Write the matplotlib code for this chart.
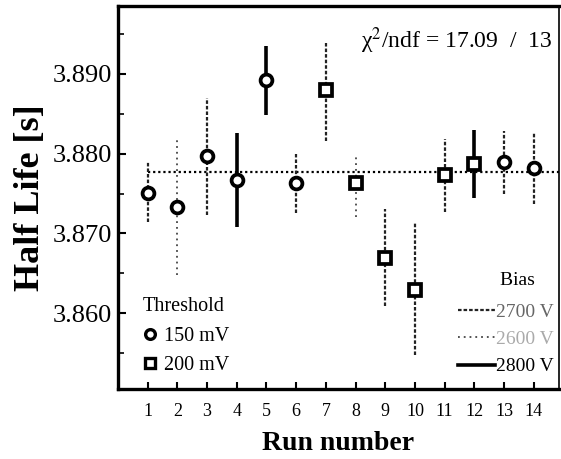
import numpy as np
import matplotlib.pyplot as plt
from matplotlib.lines import Line2D

plt.rcParams['font.family'] = 'Liberation Serif'
plt.rcParams['mathtext.fontset'] = 'stix'

runs = np.arange(1, 15)
half_life = np.array([3.8751, 3.8733, 3.8797, 3.8767, 3.8892, 3.8763, 3.8880,
                      3.8763, 3.8669, 3.8629, 3.8773, 3.8787, 3.8789, 3.8782])
err_top = np.array([3.8789, 3.8818, 3.8870, 3.8826, 3.8935, 3.8800, 3.8940,
                    3.8800, 3.8730, 3.8713, 3.8818, 3.8829, 3.8828, 3.8827])
err_bot = np.array([3.8714, 3.8648, 3.8723, 3.8708, 3.8849, 3.8725, 3.8816,
                    3.8720, 3.8609, 3.8548, 3.8727, 3.8744, 3.8749, 3.8737])
threshold = np.array([150, 150, 150, 150, 150, 150, 200, 200, 200, 200, 200, 200, 150, 150])
bias = np.array([2700, 2600, 2700, 2800, 2800, 2700, 2700, 2600, 2700, 2700, 2700, 2800, 2700, 2700])
fit_value = 3.8777
chi2, ndf = 17.09, 13

# line style for each bias voltage
bias_style = {
    2700: dict(ls=(0, (1.6, 0.9)), lw=1.6, color='#222222'),
    2600: dict(ls=(0, (1, 2.2)), lw=1.3, color='#444444'),
    2800: dict(ls='-', lw=2.6, color='black'),
}
bias_text_color = {2700: '#666666', 2600: '#aaaaaa', 2800: 'black'}
marker_of = {150: 'o', 200: 's'}

fig = plt.figure(figsize=(5.61, 4.59), dpi=100)
ax = fig.add_axes([0.2103, 0.1525, 0.7862, 0.8344])

xmax = 14.85
ax.plot([1, xmax], [fit_value, fit_value], ls=(0, (1, 1.3)), lw=1.6, color='black', zorder=1)

for b, st in bias_style.items():
    m = bias == b
    ax.vlines(runs[m], err_bot[m], err_top[m], linestyles=[st['ls']],
              linewidths=st['lw'], colors=st['color'], zorder=2)

for t, mk in marker_of.items():
    m = threshold == t
    ax.plot(runs[m], half_life[m], ls='none', marker=mk,
            ms=8.5, mfc='white', mec='black', mew=2.7, zorder=3)

ax.set_xlim(0, xmax)
ax.set_ylim(3.8505, 3.8985)
ax.set_xticks(runs)
ax.set_yticks([3.860, 3.870, 3.880, 3.890])
ax.set_yticklabels(['3.860', '3.870', '3.880', '3.890'])
ax.set_yticks(np.arange(3.855, 3.8986, 0.005), minor=True)
ax.tick_params(axis='y', which='major', direction='in', length=6, width=1.5,
               labelsize=19, pad=4)
ax.tick_params(axis='y', which='minor', direction='in', length=4, width=1.2)
ax.tick_params(axis='x', direction='in', length=5, width=1.5, labelsize=13, pad=10)
for s in ax.spines.values():
    s.set_linewidth(2.4)
ax.spines['right'].set_linewidth(1.2)

ax.set_xlabel('Run number', fontsize=20, fontweight='bold', labelpad=8)
ax.set_ylabel('Half Life [s]', fontsize=26, fontweight='bold', labelpad=4)

ax.text(0.985, 0.91, u'\u03c7$^{2}$/ndf = %.2f  /  %d' % (chi2, ndf),
        transform=ax.transAxes, ha='right', va='center', fontsize=17)

thr_handles = [Line2D([], [], ls='none', marker=marker_of[t], ms=7, mfc='white',
                      mec='black', mew=2.4) for t in (150, 200)]
leg1 = ax.legend(thr_handles, ['150 mV', '200 mV'], title='Threshold',
                 loc='lower left', bbox_to_anchor=(0.024, 0.0), frameon=False,
                 fontsize=14.5, title_fontsize=14.5, handlelength=0.7,
                 handletextpad=0.35, labelspacing=0.5, borderpad=0.2,
                 alignment='left')
leg1._legend_box.sep = 8
ax.add_artist(leg1)

bias_order = [2700, 2600, 2800]
bias_handles = [Line2D([], [], **bias_style[b]) for b in bias_order]
leg2 = ax.legend(bias_handles, ['%d V' % b for b in bias_order], title='Bias    ',
                 loc='lower right', bbox_to_anchor=(1.02, 0.0), frameon=False,
                 fontsize=14, title_fontsize=14, handlelength=1.9,
                 handletextpad=0.1, labelspacing=0.5, borderpad=0.2,
                 alignment='right')
leg2._legend_box.sep = 10
for txt, b in zip(leg2.get_texts(), bias_order):
    txt.set_color(bias_text_color[b])

fig.savefig('out.png', dpi=100)
